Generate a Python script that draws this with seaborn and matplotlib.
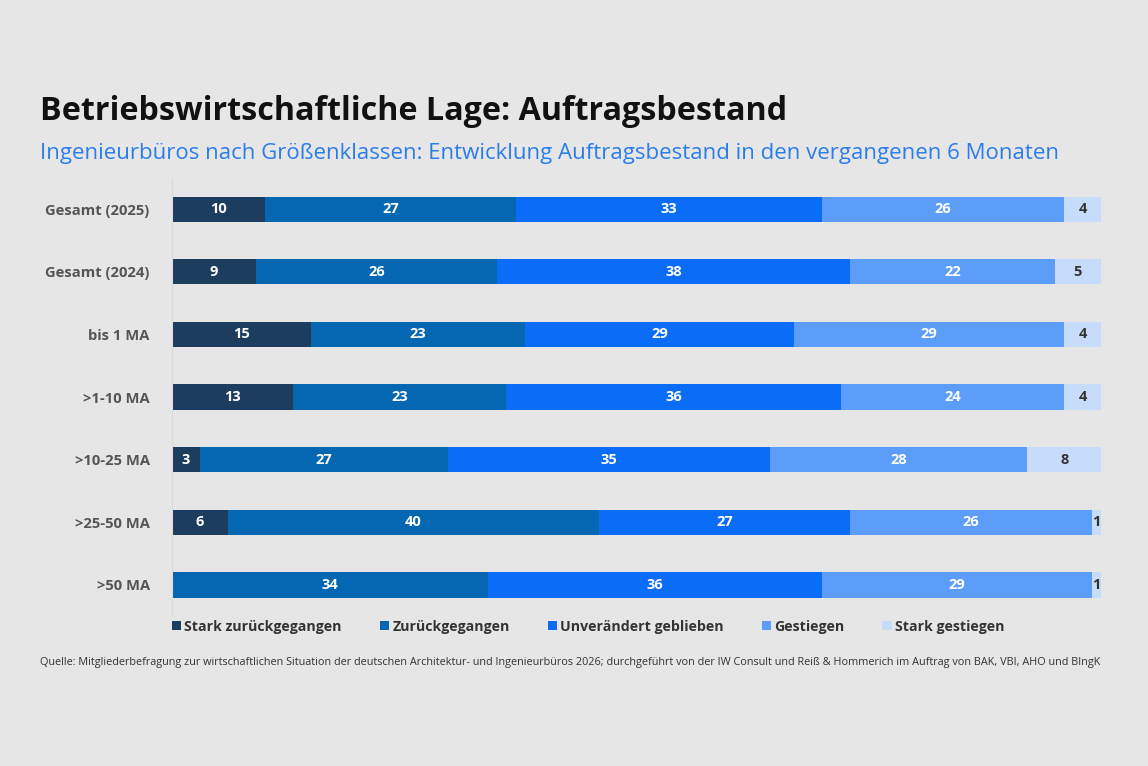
import numpy as np
import pandas as pd
import seaborn as sns
import matplotlib.pyplot as plt
from matplotlib.patches import Patch

# data
groups = ["Gesamt (2025)", "Gesamt (2024)", "bis 1 MA", ">1-10 MA",
          ">10-25 MA", ">25-50 MA", ">50 MA"]
categories = ["Stark zurückgegangen", "Zurückgegangen", "Unverändert geblieben",
              "Gestiegen", "Stark gestiegen"]
stark_zurueck = [10, 9, 15, 13, 3, 6, 0]
zurueck = [27, 26, 23, 23, 27, 40, 34]
unveraendert = [33, 38, 29, 36, 35, 27, 36]
gestiegen = [26, 22, 29, 24, 28, 26, 29]
stark_gestiegen = [4, 5, 4, 4, 8, 1, 1]

colors = ["#1d3d5e", "#0567b2", "#0b6cf7", "#5c9dfa", "#c7dcfa"]
label_colors = ["white", "white", "white", "white", "#333333"]
bg = "#e6e6e6"

sns.set_theme(style="white")
plt.rcParams["font.family"] = ["Open Sans", "DejaVu Sans"]

vals = np.array([stark_zurueck, zurueck, unveraendert, gestiegen, stark_gestiegen], dtype=float).T
shares = vals / vals.sum(axis=1, keepdims=True) * 100
cum = shares.cumsum(axis=1)
df = pd.DataFrame(cum, columns=categories)
df["group"] = groups

fig = plt.figure(figsize=(11.48, 7.66), dpi=100, facecolor=bg)
ax = fig.add_axes([0.1498, 0.1954, 0.8093, 0.5726])
ax.set_facecolor(bg)

# stacked bars: draw cumulative totals from the widest to the narrowest
for i in range(len(categories) - 1, -1, -1):
    sns.barplot(data=df, x=categories[i], y="group", color=colors[i],
                orient="h", width=0.4, saturation=1, linewidth=0, ax=ax)

for r in range(len(groups)):
    for i in range(len(categories)):
        v = vals[r, i]
        if v <= 0:
            continue
        xc = cum[r, i] - shares[r, i] / 2
        ax.text(xc, r, f"{int(v)}", ha="center", va="center",
                color=label_colors[i], fontsize=10.5, fontweight="bold")

ax.set_xlim(0, 100)
ax.set_xlabel("")
ax.set_ylabel("")
ax.set_xticks([])
ax.tick_params(axis="y", length=0, pad=16)
for lab in ax.get_yticklabels():
    lab.set_fontsize(10.6)
    lab.set_fontweight("bold")
    lab.set_color("#555555")
for s in ["top", "right", "bottom"]:
    ax.spines[s].set_visible(False)
ax.spines["left"].set_color("#dadada")
ax.spines["left"].set_linewidth(0.8)

fig.text(40 / 1148, 1 - 112 / 766, "Betriebswirtschaftliche Lage: Auftragsbestand",
         fontsize=23.2, fontweight="bold", color="#111111", va="center", ha="left")
fig.text(40 / 1148, 1 - 153 / 766,
         "Ingenieurbüros nach Größenklassen: Entwicklung Auftragsbestand in den vergangenen 6 Monaten",
         fontsize=16, color="#2b7de9", va="center", ha="left")

handles = [Patch(facecolor=c, edgecolor="none") for c in colors]
leg = fig.legend(handles, categories, loc="center left",
                 bbox_to_anchor=(172 / 1148, 1 - 627 / 766), ncol=5, frameon=False,
                 handlelength=0.6, handleheight=0.6, handletextpad=0.2,
                 columnspacing=2.5, borderaxespad=0, borderpad=0)
for t in leg.get_texts():
    t.set_fontsize(10.2)
    t.set_fontweight("bold")
    t.set_color("#333333")

fig.text(40 / 1148, 1 - 663 / 766,
         "Quelle: Mitgliederbefragung zur wirtschaftlichen Situation der deutschen Architektur- und "
         "Ingenieurbüros 2026; durchgeführt von der IW Consult und Reiß & Hommerich im Auftrag von "
         "BAK, VBI, AHO und BIngK",
         fontsize=7.8, color="#333333", va="center", ha="left")

fig.savefig("out.png", dpi=100, facecolor=bg)
